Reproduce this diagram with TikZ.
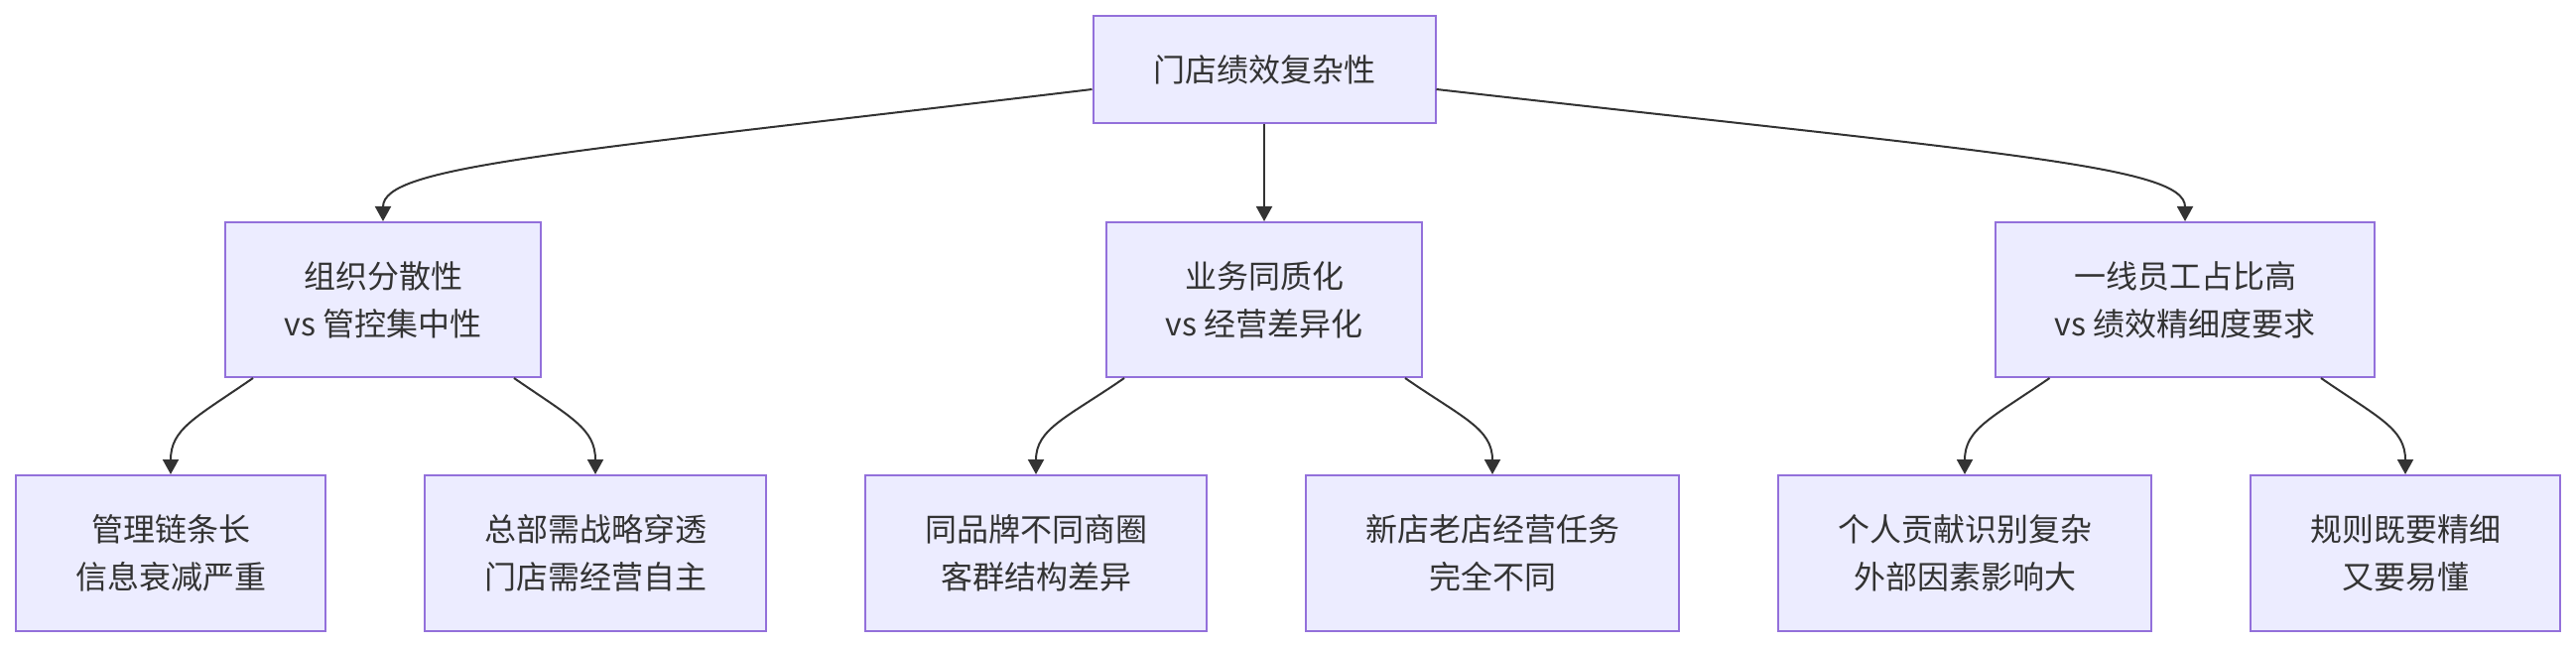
\documentclass[tikz,border=0pt]{standalone}
\usepackage{fontspec}
\setmainfont{Noto Sans CJK SC}
\usetikzlibrary{arrows.meta,calc}
\definecolor{boxfill}{HTML}{ECECFF}
\definecolor{boxline}{HTML}{9370DB}
\definecolor{ink}{HTML}{333333}

\begin{document}
\begin{tikzpicture}[x=0.5pt,y=-0.5pt,
  box/.style={draw=boxline,fill=boxfill,line width=1pt,text=ink,align=center,inner sep=0pt,font=\fontsize{16pt}{24pt}\selectfont},
  link/.style={draw=ink,line width=1pt,-{Triangle[length=7.5pt,width=8pt]}}]
  \useasboundingbox (0,0) rectangle (2596,652);
  \node[box,minimum width=172.5pt,minimum height=54pt] (root) at (1274,70) {门店绩效复杂性};
  \node[box,minimum width=159pt,minimum height=78pt] (org) at (386,302) {组织分散性\\vs 管控集中性};
  \node[box,minimum width=159pt,minimum height=78pt] (biz) at (1274,302) {业务同质化\\vs 经营差异化};
  \node[box,minimum width=191pt,minimum height=78pt] (staff) at (2202,302) {一线员工占比高\\vs 绩效精细度要求};
  \node[box,minimum width=156pt,minimum height=78.5pt] (chain) at (172,557.5) {管理链条长\\信息衰减严重};
  \node[box,minimum width=172pt,minimum height=78.5pt] (hq) at (600,557.5) {总部需战略穿透\\门店需经营自主};
  \node[box,minimum width=172pt,minimum height=78.5pt] (brand) at (1044,557.5) {同品牌不同商圈\\客群结构差异};
  \node[box,minimum width=188pt,minimum height=78.5pt] (newold) at (1504,557.5) {新店老店经营任务\\完全不同};
  \node[box,minimum width=188pt,minimum height=78.5pt] (person) at (1980,557.5) {个人贡献识别复杂\\外部因素影响大};
  \node[box,minimum width=156pt,minimum height=78.5pt] (rule) at (2424,557.5) {规则既要精细\\又要易懂};
  \draw[link] ($(root.west)+(0,20)$) .. controls +(-541,65) and +(0,-56) .. (org.north);
  \draw[link] (root.south) -- (biz.north);
  \draw[link] ($(root.east)+(0,20)$) .. controls +(572,65) and +(0,-56) .. (staff.north);
  \draw[link] ($(org.south)+(-131,0)$) .. controls +(-58,40) and +(0,-46) .. (chain.north);
  \draw[link] ($(org.south)+(132,0)$) .. controls +(58,40) and +(0,-46) .. (hq.north);
  \draw[link] ($(biz.south)+(-141,0)$) .. controls +(-58,40) and +(0,-46) .. (brand.north);
  \draw[link] ($(biz.south)+(142,0)$) .. controls +(58,40) and +(0,-46) .. (newold.north);
  \draw[link] ($(staff.south)+(-136.5,0)$) .. controls +(-58,40) and +(0,-46) .. (person.north);
  \draw[link] ($(staff.south)+(137,0)$) .. controls +(58,40) and +(0,-46) .. (rule.north);
\end{tikzpicture}
\end{document}
